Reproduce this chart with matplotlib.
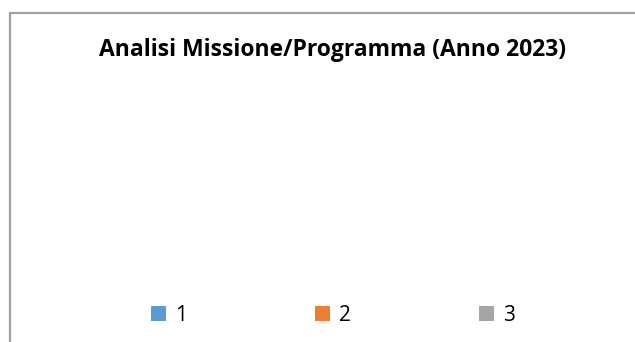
import matplotlib
matplotlib.use("Agg")
import matplotlib.pyplot as plt
from matplotlib.patches import Patch, Rectangle

# Pie data: no values recorded for 2023, so no slices are drawn
categories = ["1", "2", "3"]
values = [0, 0, 0]
colors = ["#5b9bd5", "#ed7d31", "#a5a5a5"]
title = "Analisi Missione/Programma (Anno 2023)"

W, H, DPI = 635, 342, 100
fig = plt.figure(figsize=(W / DPI, H / DPI), dpi=DPI, facecolor="white")

# chart area border (left and top edges visible)
fig.patches.append(Rectangle((9.5 / W, -0.1), 1.2, (H - 13.5) / H + 0.1,
                             transform=fig.transFigure, fill=False,
                             edgecolor="#a0a0a0", linewidth=1.6))

ax = fig.add_axes([0.25, 0.2, 0.5, 0.55])
ax.set_axis_off()
if sum(values) > 0:
    ax.pie(values, colors=colors, startangle=90, counterclock=False)

fig.text(332 / W, 1 - 50 / H, title, ha="center", va="center",
         fontsize=16.5, fontweight="bold", family="Open Sans", color="black")

handles = [Patch(facecolor=c, edgecolor="none", label=l)
           for c, l in zip(colors, categories)]
fig.legend(handles=handles, loc="center", bbox_to_anchor=(333 / W, 1 - 315.5 / H),
           ncol=3, frameon=False, prop={"family": "Open Sans", "size": 15},
           handlelength=0.72, handleheight=0.72, handletextpad=0.42,
           columnspacing=6.17, borderpad=0, borderaxespad=0)

fig.savefig("out.png", dpi=DPI, facecolor="white")
